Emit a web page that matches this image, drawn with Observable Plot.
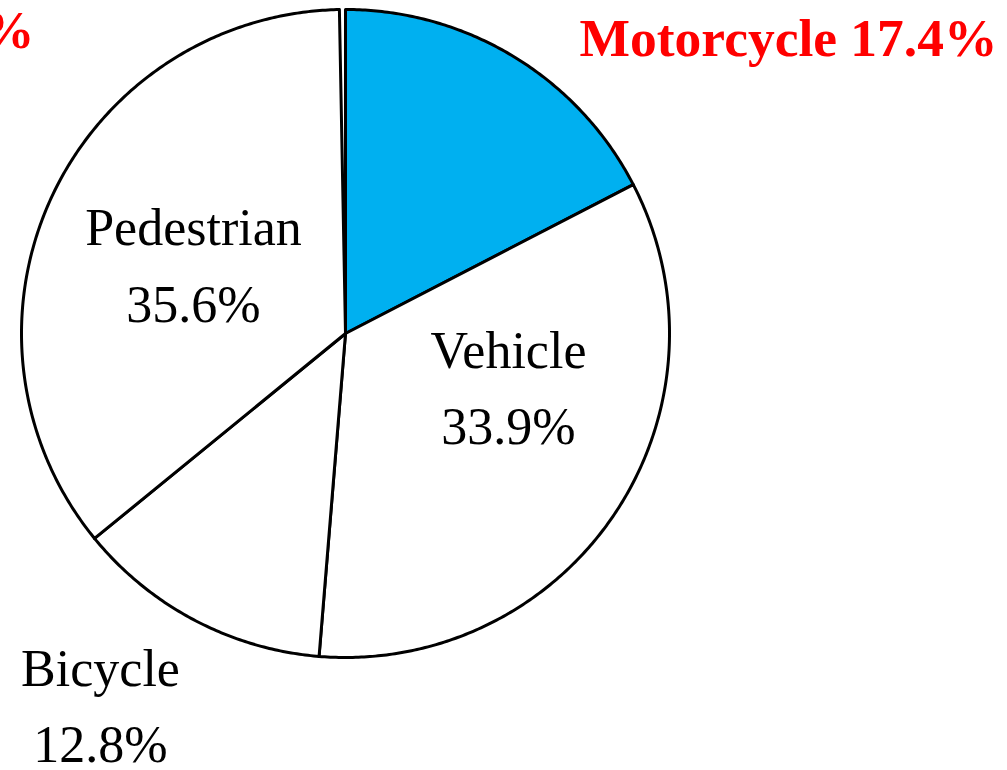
<!DOCTYPE html>
<html>
<head>
<meta charset="utf-8">
<script src="https://cdn.jsdelivr.net/npm/d3@7"></script>
<script src="https://cdn.jsdelivr.net/npm/@observablehq/plot@0.6"></script>
<style>
  html, body { margin: 0; padding: 0; background: #fff; }
  #chart svg { display: block; }
</style>
</head>
<body>
<div id="chart"></div>
<script>
// ---- data ----
const categories = ["Motorcycle", "Vehicle", "Bicycle", "Pedestrian"];
const shares = [17.4, 33.9, 12.8, 35.6];           // percent
const labels = ["Motorcycle 17.4%", "Vehicle\n33.9%", "Bicycle\n12.8%", "Pedestrian\n35.6%"];
const sliceFills = ["#00B0F0", "#ffffff", "#ffffff", "#ffffff"];

// ---- layout (pixels) ----
const W = 1007, H = 770;
const cx = 345, cy = 333, R = 324;
const toX = px => (px - cx) / R;
const toY = py => (cy - py) / R;
const fs = 52;
const shiftUp = 8;

// label anchor positions in pixels (layout only)
const labelPos = {
  Motorcycle: {px: 997, py: 38.5 - shiftUp, anchor: "end", bold: true, color: "#FF0000", size: 53.5},
  Vehicle:    {px: 508, py: 389 - shiftUp, anchor: "middle", bold: false, color: "#000", size: fs},
  Bicycle:    {px: 100, py: 707 - shiftUp, anchor: "middle", bold: false, color: "#000", size: fs},
  Pedestrian: {px: 193, py: 266.5 - shiftUp, anchor: "middle", bold: false, color: "#000", size: fs}
};

// ---- slice geometry from the shares ----
let start = 0;
const slices = categories.map((c, i) => {
  const a0 = start, a1 = start + shares[i] * 3.6;
  start = a1;
  const pts = [{x: 0, y: 0}];
  const n = Math.max(2, Math.ceil((a1 - a0) / 0.5));
  for (let k = 0; k <= n; k++) {
    const a = (a0 + (a1 - a0) * k / n) * Math.PI / 180;
    pts.push({x: Math.sin(a), y: Math.cos(a)});
  }
  pts.push({x: 0, y: 0});
  return {category: c, fill: sliceFills[i], pts};
});

const marks = [];
slices.forEach(s => {
  marks.push(Plot.line(s.pts, {
    x: "x", y: "y", fill: s.fill, stroke: "#000", strokeWidth: 3,
    strokeLinejoin: "round", curve: "linear"
  }));
});

const labelData = categories.map((c, i) => ({
  text: labels[i], x: toX(labelPos[c].px), y: toY(labelPos[c].py), ...labelPos[c]
}));

labelData.forEach(d => {
  marks.push(Plot.text([d], {
    x: "x", y: "y", text: "text", textAnchor: d.anchor, lineAnchor: "middle",
    lineHeight: 1.47, fontSize: d.size, fill: d.color,
    fontWeight: d.bold ? "bold" : "normal",
    fontFamily: "'Liberation Serif', 'Times New Roman', serif"
  }));
});

// cut-off duplicate red label at the top-left edge (as in the reference)
marks.push(Plot.text([{text: labels[0], x: toX(34), y: toY(38.5 - shiftUp)}], {
  x: "x", y: "y", text: "text", textAnchor: "end", lineAnchor: "middle",
  fontSize: 53.5, fill: "#FF0000", fontWeight: "bold",
  fontFamily: "'Liberation Serif', 'Times New Roman', serif"
}));

const chart = Plot.plot({
  width: W, height: H,
  margin: 0,
  x: {domain: [-1, 1], range: [cx - R, cx + R], axis: null},
  y: {domain: [-1, 1], range: [cy + R, cy - R], axis: null},
  style: {background: "#fff", overflow: "visible"},
  marks
});
document.getElementById("chart").appendChild(chart);
</script>
</body>
</html>
